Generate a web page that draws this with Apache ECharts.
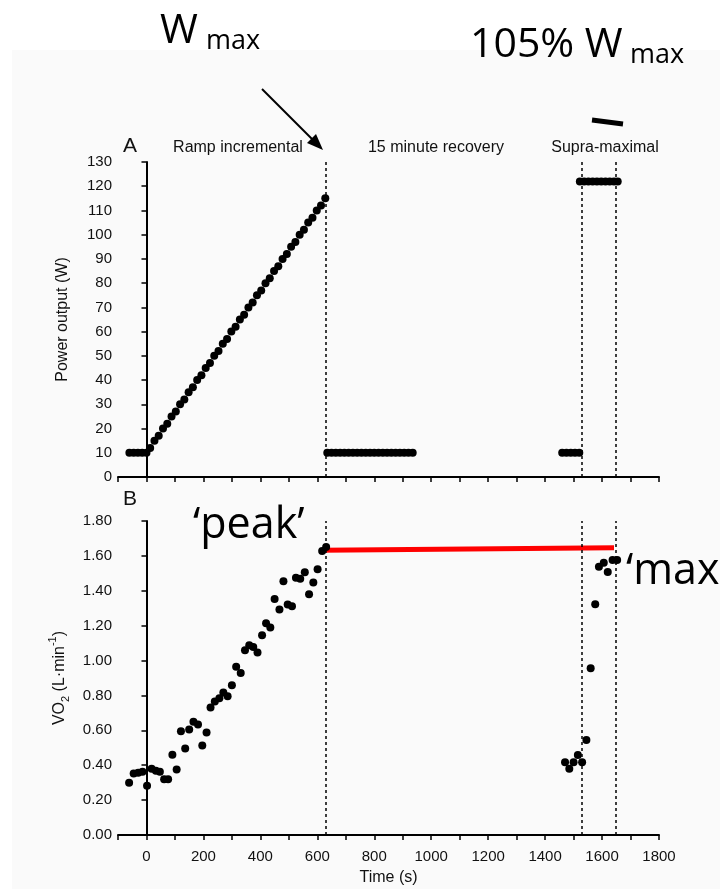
<!DOCTYPE html>
<html>
<head>
<meta charset="utf-8">
<script src="https://cdn.jsdelivr.net/npm/echarts@6/dist/echarts.min.js"></script>
<style>
  html, body { margin: 0; padding: 0; background: #fff; }
  #box { width: 720px; height: 889px; }
</style>
</head>
<body>
<div id="box"></div>
<script>
// power output (W) by phase, time in s
var baseTime = [-60, -45, -30, -15, 0];
var baseWatts = [10, 10, 10, 10, 10];
var rampTime = [13, 28, 43, 58, 73, 88, 103, 118, 133, 148, 163, 178, 193, 208, 223, 238, 253, 268, 283, 298, 313,
  328, 343, 358, 373, 388, 403, 418, 433, 448, 463, 478, 493, 508, 523, 538, 553, 568, 583, 598, 613, 628];
var rampWatts = [12, 15, 17, 20, 22, 25, 27, 30, 32, 35, 37, 40, 42, 45, 47, 50, 52, 55, 57, 60, 62,
  65, 67, 70, 72, 75, 77, 80, 82, 85, 87, 90, 92, 95, 97, 100, 102, 105, 107, 110, 112, 115];
var recTime = [635, 650, 665, 680, 695, 710, 725, 740, 755, 770, 785, 800, 815, 830, 845, 860, 875, 890, 905, 920, 935];
var recWatts = [10, 10, 10, 10, 10, 10, 10, 10, 10, 10, 10, 10, 10, 10, 10, 10, 10, 10, 10, 10, 10];
var preTime = [1460, 1475, 1490, 1505, 1520];
var preWatts = [10, 10, 10, 10, 10];
var supraTime = [1522, 1537, 1552, 1567, 1582, 1597, 1612, 1627, 1642, 1655];
var supraWatts = [122, 122, 122, 122, 122, 122, 122, 122, 122, 122];

// VO2 (L/min)
var vo2RampTime = [-61, -45, -29, -14, 2, 18, 33, 47, 62, 76, 91, 106, 121, 136, 150, 165, 181, 196, 211, 225,
  240, 256, 270, 285, 300, 315, 331, 346, 361, 375, 390, 406, 420, 435, 450, 467, 481, 496, 511, 525,
  540, 556, 571, 586, 601, 617, 631];
var vo2Ramp = [0.30, 0.353, 0.357, 0.363, 0.282, 0.38, 0.368, 0.363, 0.32, 0.32, 0.46, 0.376, 0.595, 0.496, 0.605,
  0.649, 0.634, 0.513, 0.588, 0.731, 0.765, 0.784, 0.817, 0.796, 0.859, 0.964, 0.929, 1.059, 1.088, 1.078,
  1.046, 1.145, 1.214, 1.189, 1.353, 1.292, 1.454, 1.321, 1.311, 1.475, 1.469, 1.506, 1.38, 1.447, 1.523,
  1.628, 1.651];
var vo2SupraTime = [1470, 1485, 1500, 1515, 1530, 1545, 1560, 1576, 1589, 1606, 1620, 1637, 1653];
var vo2Supra = [0.417, 0.38, 0.417, 0.459, 0.417, 0.545, 0.956, 1.323, 1.538, 1.561, 1.508, 1.577, 1.577];

// peak line and phase markers
var peakLineTime = [615, 1642];
var peakLineVo2 = [1.632, 1.646];
var phaseMarks = [0, 628, 1527, 1648];
var xTicks = [0, 200, 400, 600, 800, 1000, 1200, 1400, 1600, 1800];

function pairs(xs, ys) {
  return xs.map(function (x, i) { return [x, ys[i]]; });
}

var myChart = echarts.init(document.getElementById("box"));

var tickFont = { color: "#111", fontSize: 15, fontFamily: "Liberation Sans, Arial" };
var nameFont = { color: "#111", fontSize: 16, fontFamily: "Liberation Sans, Arial" };
var bigFont = "Open Sans";

function timeAxis(idx, showLabel) {
  return {
    type: "value",
    gridIndex: idx,
    min: -100,
    max: 1800,
    interval: 100,
    axisLine: { lineStyle: { color: "#000", width: 2 } },
    axisTick: { inside: false, length: 5, lineStyle: { color: "#000", width: 1.5 } },
    splitLine: { show: false },
    axisLabel: Object.assign({
      show: showLabel,
      margin: 14,
      formatter: function (v) { return xTicks.indexOf(v) >= 0 ? String(v) : ""; },
    }, tickFont),
    name: showLabel ? "Time (s)" : "",
    nameLocation: "middle",
    nameGap: 35,
    nameTextStyle: nameFont,
  };
}

var dashedMarks = {
  silent: true,
  symbol: "none",
  label: { show: false },
  lineStyle: { color: "#000", type: [3, 3], width: 1.5 },
  data: phaseMarks.map(function (t) { return { xAxis: t }; }),
};

var option = {
  backgroundColor: "#fff",
  animation: false,
  grid: [
    { left: 118, right: 61, top: 162, height: 315 },
    { left: 118, right: 61, top: 521, height: 314 },
  ],
  xAxis: [timeAxis(0, false), timeAxis(1, true)],
  yAxis: [
    {
      type: "value",
      gridIndex: 0,
      min: 0,
      max: 130,
      interval: 10,
      axisLine: { show: true, lineStyle: { color: "#000", width: 2 } },
      axisTick: { show: true, length: 5, lineStyle: { color: "#000", width: 1.5 } },
      splitLine: { show: false },
      axisLabel: Object.assign({ margin: 6 }, tickFont),
      name: "Power output (W)",
      nameLocation: "middle",
      nameRotate: 90,
      nameGap: 47,
      nameTextStyle: nameFont,
    },
    {
      type: "value",
      gridIndex: 1,
      min: 0,
      max: 1.8,
      interval: 0.2,
      axisLine: { show: true, lineStyle: { color: "#000", width: 2 } },
      axisTick: { show: true, length: 5, lineStyle: { color: "#000", width: 1.5 } },
      splitLine: { show: false },
      axisLabel: Object.assign({
        margin: 6,
        formatter: function (v) { return v.toFixed(2); },
      }, tickFont),
      name: "{a|VO}{s|2}{a| (L·min}{p|-1}{a|)}",
      nameLocation: "middle",
      nameRotate: 90,
      nameGap: 43,
      nameTextStyle: {
        rich: {
          a: { color: "#111", fontSize: 16, lineHeight: 24, fontFamily: "Liberation Sans, Arial" },
          s: { color: "#111", fontSize: 11, lineHeight: 11, verticalAlign: "bottom", fontFamily: "Liberation Sans, Arial" },
          p: { color: "#111", fontSize: 11, lineHeight: 11, verticalAlign: "top", fontFamily: "Liberation Sans, Arial" },
        },
      },
    },
  ],
  series: [
    {
      name: "power",
      type: "scatter",
      xAxisIndex: 0,
      yAxisIndex: 0,
      symbolSize: 8,
      itemStyle: { color: "#000", opacity: 1 },
      data: pairs(baseTime, baseWatts)
        .concat(pairs(rampTime, rampWatts))
        .concat(pairs(recTime, recWatts))
        .concat(pairs(preTime, preWatts))
        .concat(pairs(supraTime, supraWatts)),
      markLine: dashedMarks,
    },
    {
      name: "peak line",
      type: "line",
      xAxisIndex: 1,
      yAxisIndex: 1,
      symbol: "none",
      lineStyle: { color: "#ff0000", width: 5 },
      data: pairs(peakLineTime, peakLineVo2),
      z: 1,
    },
    {
      name: "vo2",
      type: "scatter",
      xAxisIndex: 1,
      yAxisIndex: 1,
      symbolSize: 8,
      itemStyle: { color: "#000", opacity: 1 },
      data: pairs(vo2RampTime, vo2Ramp).concat(pairs(vo2SupraTime, vo2Supra)),
      markLine: dashedMarks,
      z: 3,
    },
  ],
  graphic: [
    // faint slide background behind the figure
    { type: "rect", left: 12, top: 50, z: -10, shape: { width: 708, height: 839 }, style: { fill: "#fafafa" } },
    // panel letters and phase labels
    { type: "text", x: 123, y: 146, style: { text: "A", font: "21px Liberation Sans", fill: "#111", verticalAlign: "middle" } },
    { type: "text", x: 123, y: 499, style: { text: "B", font: "21px Liberation Sans", fill: "#111", verticalAlign: "middle" } },
    { type: "text", x: 238, y: 148, style: { text: "Ramp incremental", font: "16px Liberation Sans", fill: "#111", align: "center", verticalAlign: "middle" } },
    { type: "text", x: 436, y: 148, style: { text: "15 minute recovery", font: "16px Liberation Sans", fill: "#111", align: "center", verticalAlign: "middle" } },
    { type: "text", x: 605, y: 148, style: { text: "Supra-maximal", font: "16px Liberation Sans", fill: "#111", align: "center", verticalAlign: "middle" } },
    // slide annotations
    { type: "text", x: 160, y: 31, style: { text: "W", font: "41px " + bigFont, fill: "#000", verticalAlign: "middle" } },
    { type: "text", x: 206, y: 41, style: { text: "max", font: "27px " + bigFont, fill: "#000", verticalAlign: "middle" } },
    { type: "text", x: 470, y: 45, style: { text: "105% W", font: "41px " + bigFont, fill: "#000", verticalAlign: "middle" } },
    { type: "text", x: 630, y: 55, style: { text: "max", font: "27px " + bigFont, fill: "#000", verticalAlign: "middle" } },
    { type: "text", x: 193, y: 526, style: { text: "\u2018peak\u2019", font: "43px " + bigFont, fill: "#000", verticalAlign: "middle" } },
    { type: "text", x: 626, y: 572, style: { text: "\u2018max", font: "43px " + bigFont, fill: "#000", verticalAlign: "middle" } },
    // arrow to Wmax
    { type: "line", shape: { x1: 262, y1: 89, x2: 313, y2: 140 }, style: { stroke: "#000", lineWidth: 2 } },
    { type: "polygon", shape: { points: [[323, 150], [307, 143], [316, 134]] }, style: { fill: "#000" } },
    // bar under 105% Wmax
    { type: "line", shape: { x1: 592, y1: 120, x2: 623, y2: 124 }, style: { stroke: "#000", lineWidth: 5 } },
  ],
};

myChart.setOption(option);
</script>
</body>
</html>
